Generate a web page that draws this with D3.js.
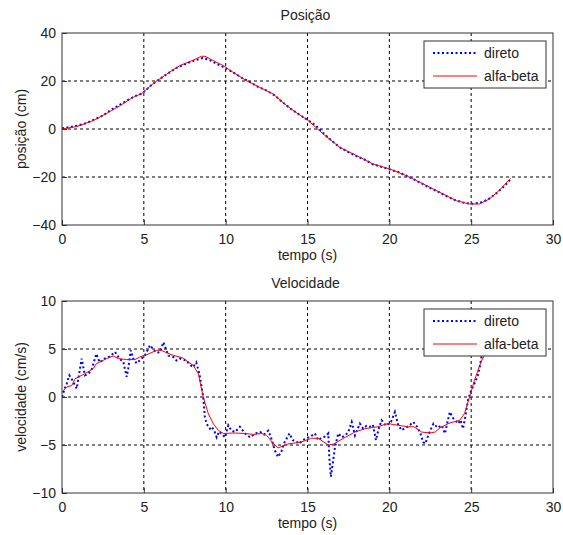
<!DOCTYPE html>
<html>
<head>
<meta charset="utf-8">
<script src="https://cdn.jsdelivr.net/npm/d3@7"></script>
<style>
  body { margin: 0; background: #fff; }
  svg text { font-family: "Liberation Sans", Arial, sans-serif; fill: #222; }
</style>
</head>
<body>
<svg id="chart" width="563" height="535"></svg>
<script>
// position (cm) - direto (measured) and alfa-beta (filtered)
const posDiretoT = [0, 0.5, 1.0, 1.5, 2.0, 2.5, 3.0, 3.5, 4.0, 4.5, 4.9, 5.5, 6.0, 6.5, 7.0, 7.5, 8.0, 8.6, 9.0, 9.5, 10.0, 10.5, 11.0, 11.5, 12.0, 12.5, 13.0, 13.5, 14.0, 14.5, 15.0, 15.5, 16.0, 16.5, 17.0, 17.5, 18.0, 18.5, 19.0, 19.5, 20.0, 20.5, 21.0, 21.5, 22.0, 22.5, 23.0, 23.5, 24.0, 24.5, 25.0, 25.5, 26.0, 26.5, 27.0, 27.4];
const posDireto = [0.3, 0.8, 1.5, 2.5, 4.0, 5.6, 8.0, 10.0, 12.0, 13.8, 14.8, 18.5, 21.0, 23.3, 25.5, 27.0, 28.3, 29.6, 28.8, 27.0, 25.4, 23.4, 21.3, 19.5, 17.5, 16.0, 14.0, 11.0, 8.3, 6.0, 3.8, 1.5, -2.0, -5.0, -7.8, -9.6, -11.3, -12.8, -14.7, -15.7, -16.8, -17.8, -19.3, -21.0, -22.8, -24.6, -26.2, -28.0, -29.6, -30.6, -31.2, -30.8, -29.5, -27.0, -24.0, -21.0];
const posAlfaT = [0, 0.9, 1.9, 2.73, 3.54, 4.26, 4.87, 5.58, 6.4, 7.2, 8.02, 8.53, 8.74, 9.24, 9.86, 10.46, 11.28, 12.1, 12.9, 13.73, 14.3, 15.05, 15.96, 16.98, 18.0, 19.02, 20.04, 21.06, 22.07, 23.09, 24.1, 24.9, 25.5, 26.1, 26.7, 27.4];
const posAlfa = [0, 1.0, 3.5, 6.5, 9.7, 12.9, 14.8, 19.0, 22.9, 26.4, 28.7, 30.3, 30.3, 28.5, 26.4, 23.6, 20.1, 17.3, 14.6, 9.7, 6.9, 3.5, -2.1, -7.7, -11.1, -14.6, -16.7, -19.5, -22.9, -26.4, -29.9, -31.25, -31.25, -29.2, -25.7, -20.6];

// velocity (cm/s)
const velDiretoT = [0.0, 0.15, 0.29, 0.45, 0.65, 0.9, 1.1, 1.2, 1.4, 1.6, 1.8, 2.1, 2.3, 2.6, 2.9, 3.24, 3.5, 3.75, 3.95, 4.05, 4.2, 4.35, 4.56, 4.8, 5.07, 5.38, 5.6, 5.8, 6.0, 6.19, 6.35, 6.5, 6.8, 7.0, 7.2, 7.6, 7.8, 8.0, 8.2, 8.4, 8.55, 8.63, 8.73, 8.84, 9.04, 9.14, 9.3, 9.45, 9.6, 9.8, 9.96, 10.16, 10.35, 10.57, 10.87, 11.18, 11.5, 11.8, 12.1, 12.35, 12.6, 12.77, 13.0, 13.2, 13.4, 13.6, 13.9, 14.1, 14.3, 14.5, 14.7, 14.95, 15.2, 15.45, 15.66, 15.9, 16.1, 16.27, 16.33, 16.43, 16.57, 16.68, 16.88, 17.1, 17.3, 17.49, 17.7, 17.9, 18.2, 18.4, 18.6, 18.8, 19.0, 19.18, 19.35, 19.53, 19.8, 20.1, 20.34, 20.55, 20.75, 21.0, 21.2, 21.46, 21.7, 21.9, 22.07, 22.2, 22.4, 22.6, 22.7, 22.95, 23.2, 23.4, 23.55, 23.7, 23.9, 24.2, 24.35, 24.5, 24.65, 24.8, 25.0, 25.2, 25.45, 25.63, 25.84, 26.1, 26.5, 27.0, 27.4];
const velDireto = [0.0, 0.8, 1.4, 2.26, 1.7, 0.87, 2.95, 4.0, 2.26, 2.4, 2.8, 4.5, 3.6, 4.0, 4.2, 4.7, 4.0, 3.65, 2.1, 3.0, 4.86, 4.0, 3.5, 3.9, 4.34, 5.4, 4.9, 4.6, 4.7, 5.7, 5.0, 4.3, 4.17, 3.8, 4.0, 3.8, 3.4, 3.1, 3.6, 2.4, 0.8, 0.0, -2.1, -2.8, -3.3, -3.1, -3.5, -4.2, -3.6, -3.9, -4.2, -2.95, -3.5, -3.65, -3.1, -3.8, -4.2, -3.8, -3.65, -3.9, -3.5, -4.2, -5.55, -6.25, -5.7, -4.7, -3.8, -4.5, -4.6, -4.86, -4.5, -4.3, -4.1, -3.8, -4.5, -4.2, -4.1, -3.8, -6.25, -8.3, -6.6, -5.2, -3.8, -4.2, -4.0, -3.65, -2.6, -4.0, -2.77, -3.3, -3.0, -3.1, -2.9, -4.5, -3.3, -2.43, -3.0, -2.6, -1.56, -2.95, -3.47, -3.2, -3.0, -2.6, -3.1, -3.8, -4.7, -4.86, -3.9, -3.1, -2.77, -3.2, -2.95, -3.8, -2.6, -1.56, -2.2, -2.77, -2.4, -3.3, -2.0, -0.35, 0.7, 1.4, 2.43, 4.17, 5.04, 5.5, 6.3, 7.0, 7.6];
const velAlfaT = [0.0, 0.29, 0.6, 0.8, 1.4, 1.9, 2.1, 2.73, 3.13, 3.44, 3.95, 4.46, 4.76, 5.17, 5.78, 6.07, 6.4, 6.8, 7.4, 7.7, 8.02, 8.33, 8.63, 8.94, 9.24, 9.55, 9.86, 10.5, 11.2, 11.7, 12.2, 12.5, 12.9, 13.2, 13.8, 14.6, 15.25, 15.66, 16.0, 16.27, 16.6, 17.3, 17.9, 18.5, 19.3, 19.9, 20.55, 21.15, 21.5, 21.97, 22.5, 22.8, 23.1, 23.7, 24.3, 24.6, 24.9, 25.2, 25.6, 26.0, 26.5, 27.0, 27.4];
const velAlfa = [0.5, 1.04, 1.2, 1.9, 2.43, 2.95, 3.47, 4.0, 4.27, 4.0, 3.9, 3.9, 4.17, 4.4, 4.86, 4.86, 4.6, 4.34, 4.06, 3.65, 3.3, 2.43, 0.0, -1.74, -2.77, -3.47, -3.8, -3.75, -3.8, -3.9, -3.8, -4.0, -4.8, -5.3, -4.9, -4.7, -4.3, -4.3, -4.7, -5.0, -4.9, -4.2, -3.65, -3.3, -3.1, -2.77, -2.95, -3.1, -3.1, -3.65, -3.75, -3.65, -3.2, -2.7, -2.43, -1.7, 0.0, 1.74, 3.65, 5.0, 6.2, 7.0, 7.5];

const xTicks = [0, 5, 10, 15, 20, 25, 30];
const posTicks = [-40, -20, 0, 20, 40];
const velTicks = [-10, -5, 0, 5, 10];
const legendLabels = ["direto", "alfa-beta"];

const svg = d3.select("#chart");
const FS = 14;

function drawPanel(cfg) {
  const left = 62, right = 553;
  const g = svg.append("g");

  const x = d3.scaleLinear().domain([0, 30]).range([left, right]);
  const y = d3.scaleLinear().domain(cfg.yDomain).range([cfg.bottom, cfg.top]);

  // grid (dashed)
  g.selectAll(".vgrid")
    .data(xTicks.slice(1, -1))
    .join("line")
    .attr("x1", d => x(d)).attr("x2", d => x(d))
    .attr("y1", cfg.top).attr("y2", cfg.bottom)
    .attr("stroke", "#000").attr("stroke-width", 1)
    .attr("stroke-dasharray", "3,3");
  g.selectAll(".hgrid")
    .data(cfg.yTicks.slice(1, -1))
    .join("line")
    .attr("x1", left).attr("x2", right)
    .attr("y1", d => y(d)).attr("y2", d => y(d))
    .attr("stroke", "#000").attr("stroke-width", 1)
    .attr("stroke-dasharray", "3,3");

  // axes, ticks inside like matlab
  const xAxis = g.append("g")
    .attr("transform", `translate(0,${cfg.bottom})`)
    .call(d3.axisBottom(x).tickValues(xTicks).tickSize(-5).tickPadding(9));
  const yAxis = g.append("g")
    .attr("transform", `translate(${left},0)`)
    .call(d3.axisLeft(y).tickValues(cfg.yTicks).tickSize(-5).tickPadding(6));
  [xAxis, yAxis].forEach(a => {
    a.select(".domain").remove();
    a.selectAll("line").attr("stroke", "#333");
    a.selectAll("text").attr("font-size", FS).attr("fill", "#222")
      .style("font-family", "Liberation Sans, Arial, sans-serif");
  });

  // data lines
  const line = d3.line().x(d => x(d[0])).y(d => y(d[1]));
  const clipId = "clip" + cfg.top;
  g.append("clipPath").attr("id", clipId)
    .append("rect").attr("x", left).attr("y", cfg.top)
    .attr("width", right - left).attr("height", cfg.bottom - cfg.top);

  g.append("path")
    .datum(d3.zip(cfg.diretoT, cfg.direto))
    .attr("clip-path", `url(#${clipId})`)
    .attr("d", line)
    .attr("fill", "none").attr("stroke", "#0000ff")
    .attr("stroke-width", 2).attr("stroke-dasharray", "2,2.5");
  g.append("path")
    .datum(d3.zip(cfg.alfaT, cfg.alfa))
    .attr("clip-path", `url(#${clipId})`)
    .attr("d", line)
    .attr("fill", "none").attr("stroke", "#ff0000")
    .attr("stroke-width", 1);

  // box
  g.append("rect")
    .attr("x", left).attr("y", cfg.top)
    .attr("width", right - left).attr("height", cfg.bottom - cfg.top)
    .attr("fill", "none").attr("stroke", "#333").attr("stroke-width", 1);

  // titles and labels
  g.append("text")
    .attr("x", (left + right) / 2 - 2).attr("y", cfg.top - 13)
    .attr("text-anchor", "middle").attr("font-size", FS)
    .text(cfg.title);
  g.append("text")
    .attr("x", (left + right) / 2).attr("y", cfg.bottom + 35)
    .attr("text-anchor", "middle").attr("font-size", FS)
    .text("tempo (s)");
  g.append("text")
    .attr("transform", `translate(26,${(cfg.top + cfg.bottom) / 2}) rotate(-90)`)
    .attr("text-anchor", "middle").attr("font-size", FS)
    .text(cfg.yLabel);

  // legend
  const lg = g.append("g").attr("transform", `translate(424,${cfg.top + 8})`);
  lg.append("rect")
    .attr("width", 122).attr("height", 47)
    .attr("fill", "#fff").attr("stroke", "#333").attr("stroke-width", 1);
  legendLabels.forEach((name, i) => {
    const ly = 12 + i * 23;
    lg.append("line")
      .attr("x1", 9).attr("x2", 53).attr("y1", ly).attr("y2", ly)
      .attr("stroke", i === 0 ? "#0000ff" : "#ff0000")
      .attr("stroke-width", i === 0 ? 2 : 1)
      .attr("stroke-dasharray", i === 0 ? "2,2.5" : null);
    lg.append("text")
      .attr("x", 60).attr("y", ly + 5)
      .attr("font-size", FS)
      .text(name);
  });
}

drawPanel({
  top: 33, bottom: 225, yDomain: [-40, 40], yTicks: posTicks,
  title: "Posição", yLabel: "posição (cm)",
  diretoT: posDiretoT, direto: posDireto, alfaT: posAlfaT, alfa: posAlfa
});

drawPanel({
  top: 301, bottom: 493, yDomain: [-10, 10], yTicks: velTicks,
  title: "Velocidade", yLabel: "velocidade (cm/s)",
  diretoT: velDiretoT, direto: velDireto, alfaT: velAlfaT, alfa: velAlfa
});
</script>
</body>
</html>
